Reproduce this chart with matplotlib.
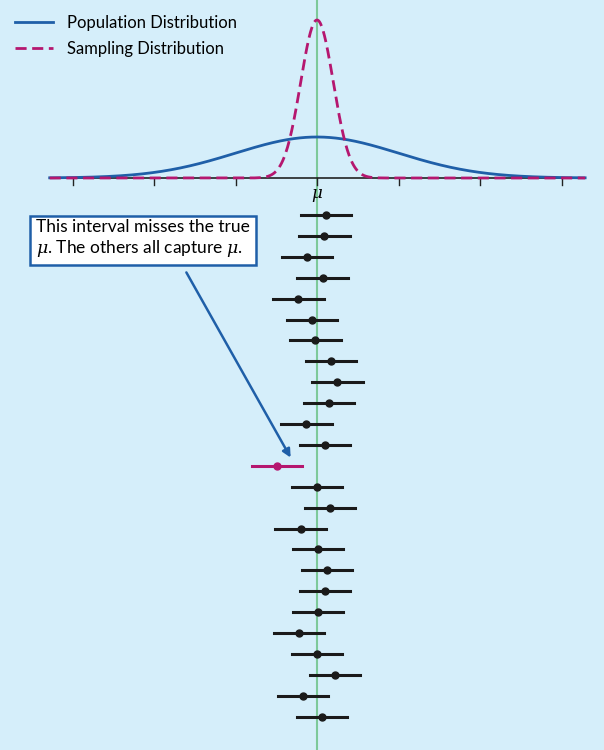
import numpy as np
import matplotlib
matplotlib.use("Agg")
import matplotlib.pyplot as plt

plt.rcParams["font.family"] = ["Lato", "DejaVu Sans"]
plt.rcParams["mathtext.fontset"] = "dejavuserif"

# x in standard-deviation units (mu = 0); y in rows from the top
pop_peak = 41.0
samp_peak = 158.0
samp_sd = 0.2
ci_centers = [0.11, 0.09, -0.12, 0.07, -0.23, -0.06, -0.02, 0.17, 0.25, 0.15,
              -0.13, 0.10, -0.49, 0.0, 0.16, -0.20, 0.01, 0.12, 0.10, 0.01,
              -0.22, 0.0, 0.22, -0.17, 0.06]
ci_half = 0.31
missed = 12
tick_pos = [-3, -2, -1, 0, 1, 2, 3]

BG = "#d5eefa"
BLUE = "#1f5fa8"
MAG = "#b5176f"
GREEN = "#7dc99a"

fig = plt.figure(figsize=(6.04, 7.5), dpi=100)
fig.patch.set_facecolor(BG)
ax = fig.add_axes([0, 0, 1, 1])
ax.set_facecolor(BG)
ax.set_xlim(-317 / 81.5, (604 - 317) / 81.5)
ax.set_ylim(750, 0)
ax.axis("off")

base = 178
ax.axvline(0, color=GREEN, lw=1.5, zorder=1)
ax.plot([-3.28, 3.29], [base, base], color="#222222", lw=1.2, zorder=2)
for t in tick_pos:
    ax.plot([t, t], [base, base + 7], color="#222222", lw=1)
ax.text(0, 195, r"$\mu$", ha="center", va="center", fontsize=12)

x = np.linspace(-3.28, 3.29, 800)
pop = pop_peak * np.exp(-0.5 * x ** 2)
samp = samp_peak * np.exp(-0.5 * (x / samp_sd) ** 2)
ax.plot(x, base - pop, color=BLUE, lw=2, zorder=3, label="Population Distribution")
ax.plot(x, base - samp, color=MAG, lw=2, ls=(0, (4, 2)), zorder=3,
        label="Sampling Distribution")
ax.legend(loc="upper left", bbox_to_anchor=(0.0, 1.0), frameon=False,
          fontsize=12, handlelength=2.3, labelspacing=0.6)

rows = 215 + np.arange(len(ci_centers)) * 20.9
for i, (c, y) in enumerate(zip(ci_centers, rows)):
    col = MAG if i == missed else "#1a1a1a"
    ax.plot([c - ci_half, c + ci_half], [y, y], color=col, lw=2.2, zorder=4)
    ax.plot(c, y, "o", color=col, ms=5, zorder=5)

ax.annotate("", xy=((292 - 317) / 81.5, 460), xytext=((185 - 317) / 81.5, 270),
            arrowprops=dict(arrowstyle="-|>", color=BLUE, lw=1.8, mutation_scale=12))
ax.text((36 - 317) / 81.5, 239, "This interval misses the true\n"
        r"$\mu$. The others all capture $\mu$.",
        fontsize=12.5, va="center", ha="left", linespacing=1.25,
        bbox=dict(boxstyle="square,pad=0.35", fc="white", ec=BLUE, lw=1.8))

fig.savefig("out.png", dpi=100, facecolor=BG)
